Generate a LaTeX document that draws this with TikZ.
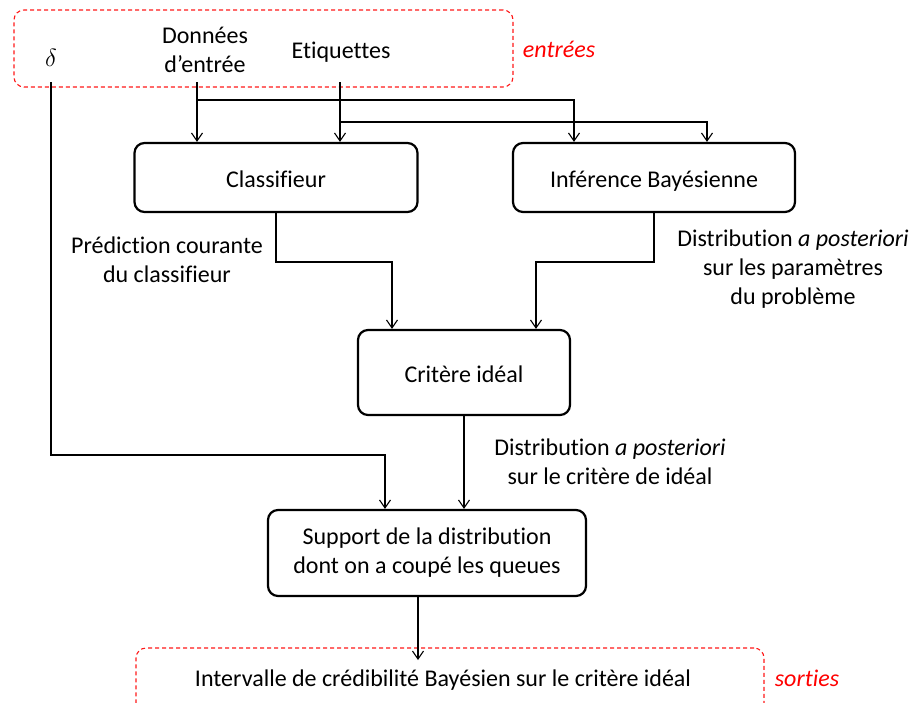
\documentclass[tikz,border=0pt]{standalone}
\usepackage{fontspec}
\setmainfont[Ligatures=NoCommon]{Carlito}
\usetikzlibrary{arrows.meta}
\tikzset{
  box/.style={draw, line width=2.2pt, rounded corners=10pt, align=center, inner sep=0pt},
  one/.style={text height=19pt, text depth=0pt},
  redbox/.style={draw=red!90!white, dashed, dash pattern=on 4pt off 3pt, line width=1.1pt, rounded corners=10pt, inner sep=0pt},
  arr/.style={draw, line width=1.1pt, -{Straight Barb[length=8pt,width=11pt,line width=1.1pt]}},
  lab/.style={align=center, inner sep=0pt},
  redlab/.style={text=red, inner sep=0pt},
}
\begin{document}
\begin{tikzpicture}[x=1pt,y=-1pt, every node/.append style={font=\fontsize{24}{29}\selectfont}]
\useasboundingbox (0,0) rectangle (915,702);
% input dashed box
\node[redbox, minimum width=499pt, minimum height=77pt] (inbox) at (263.5,48.5) {};
\node[redlab, one] (entrees) at (559,48) {\itshape entrées};
\node[lab] (delta) at (51,58) {\fontsize{26}{29}\selectfont$\delta$};
\node[lab] (don) at (205,50) {Données\\d’entrée};
\node[lab, one] (eti) at (341,49) {Etiquettes};
% boxes
\node[box, one, minimum width=283pt, minimum height=69pt] (cl) at (276,177.5) {Classifieur};
\node[box, one, minimum width=282pt, minimum height=69pt] (inf) at (654,177.5) {Inférence Bayésienne};
\node[box, one, minimum width=212pt, minimum height=85pt] (crit) at (464,372.5) {Critère idéal};
\node[box, minimum width=318pt, minimum height=86pt] (sup) at (427,553) {Support de la distribution\\dont on a coupé les queues};
% output dashed box
\node[redbox, minimum width=628pt, minimum height=70pt] (outbox) at (450,683) {};
\node[lab, one] (interv) at (443,677) {Intervalle de crédibilité Bayésien sur le critère idéal};
\node[redlab, one] (sorties) at (807,677) {\itshape sorties};
% labels
\node[lab] (lpred) at (167,260) {Prédiction courante\\du classifieur};
\node[lab] (lpost) at (793,269) {Distribution \textit{a posteriori}\\sur les paramètres\\du problème};
\node[lab] (lcrit) at (610,462) {Distribution \textit{a posteriori}\\sur le critère de idéal};
% coordinates for free ends
\coordinate (d0) at (197,82);
\coordinate (e0) at (340,82);
\coordinate (g0) at (51,82);
\coordinate (o1) at (418,660);
% connectors
\draw[arr] (d0) -- (d0 |- cl.north);
\draw[arr] (d0 |- 0,100) -| ([xshift=-80pt]inf.north);
\draw[arr] (e0) -- (e0 |- cl.north);
\draw[arr] (e0 |- 0,122) -| ([xshift=53pt]inf.north);
\draw[arr] (cl.south) -- (cl.south |- 0,262) -| ([xshift=-72pt]crit.north);
\draw[arr] (inf.south) -- (inf.south |- 0,262) -| ([xshift=72pt]crit.north);
\draw[arr] (g0) -- (g0 |- 0,455) -| ([xshift=-42pt]sup.north);
\draw[arr] (crit.south) -- (crit.south |- sup.north);
\draw[arr] ([xshift=-9pt]sup.south) -- (o1);
\end{tikzpicture}
\end{document}
